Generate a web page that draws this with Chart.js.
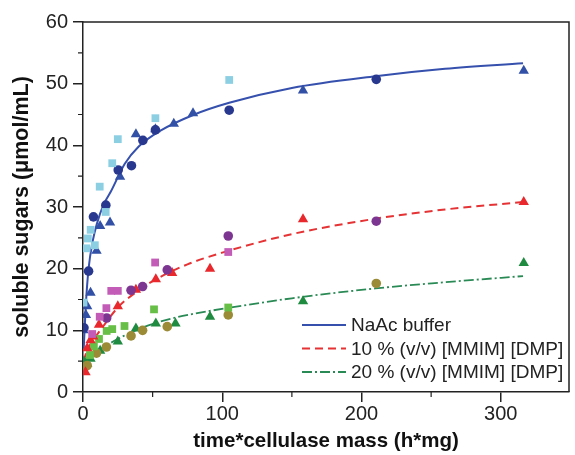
<!DOCTYPE html>
<html>
<head>
<meta charset="utf-8">
<script src="https://cdn.jsdelivr.net/npm/chart.js@4.4.1/dist/chart.umd.min.js"></script>
<style>
  html, body { margin: 0; padding: 0; background: #fff; overflow: hidden; }
  #wrap { width: 575px; height: 455px; }
</style>
</head>
<body>
<div id="wrap"><canvas id="sugarChart"></canvas></div>
<script>
// NaAc buffer
const naacCircleX = [0.7, 4, 7.5, 16.4, 25.3, 34.8, 43, 52, 105, 210.6];
const naacCircleY = [10.4, 19.6, 28.4, 30.3, 36.0, 36.7, 40.8, 42.5, 45.7, 50.7];
const naacTriX = [0.3, 2.1, 3, 5.4, 9.7, 12.3, 19.4, 26.6, 38, 52, 65.2, 79, 158, 316.5];
const naacTriY = [10.0, 12.5, 13.9, 16.1, 22.9, 26.9, 27.5, 34.9, 41.8, 42.6, 43.5, 45.2, 48.9, 52.1];
const naacSqX = [0.4, 2.5, 3.5, 5.5, 8.5, 12, 16.3, 21, 25, 52, 105];
const naacSqY = [14.5, 23.3, 24.9, 26.3, 23.8, 33.3, 29.2, 37.1, 41.0, 44.4, 50.6];
const naacFitX = [0.5, 2, 4, 7, 10, 15, 20, 30, 40, 55, 80, 105, 150, 210, 260, 316];
const naacFitY = [7, 14, 20, 24.5, 27.3, 30.5, 32.5, 37, 39.8, 42.3, 45, 46.9, 49.3, 51.2, 52.4, 53.3];

// 10 % (v/v) [MMIM] [DMP]
const il10TriX = [1.8, 3, 5.4, 7.3, 11.5, 25, 38, 52.3, 64, 91.2, 158, 316.5];
const il10TriY = [3.2, 7.1, 8.4, 9.0, 10.9, 13.9, 16.6, 18.3, 19.3, 20.0, 28.0, 30.8];
const il10CircleX = [17, 34.5, 42.8, 60.5, 104.3, 210.6];
const il10CircleY = [12.0, 16.5, 17.1, 19.8, 25.3, 27.7];
const il10SqX = [6.6, 12, 16.8, 20.3, 25, 51.8, 104.3];
const il10SqY = [9.4, 12.2, 13.6, 16.4, 16.4, 21.0, 22.7];
const il10FitX = [0.5, 3, 7, 15, 25, 40, 55, 75, 100, 150, 210, 260, 316];
const il10FitY = [5, 6.8, 8.3, 10.8, 13.7, 16.5, 18.6, 20.7, 22.6, 25.6, 28.1, 29.6, 30.8];

// 20 % (v/v) [MMIM] [DMP]
const il20TriX = [0.7, 3, 5.4, 12.3, 25, 38, 52.3, 66.4, 91.2, 158, 316.5];
const il20TriY = [5.0, 4.6, 5.4, 6.7, 8.2, 10.3, 11.1, 11.1, 12.2, 14.7, 20.9];
const il20CircleX = [0.5, 3, 9.7, 16.8, 34.5, 42.8, 60.5, 104.3, 210.6];
const il20CircleY = [3.7, 4.3, 6.3, 7.3, 9.1, 10.0, 10.6, 12.5, 17.6];
const il20SqX = [5, 7.8, 11.5, 17, 21, 29.8, 51, 104.3];
const il20SqY = [6.0, 7.4, 8.6, 9.9, 10.2, 10.7, 13.4, 13.7];
const il20FitX = [0.5, 3, 8, 15, 25, 40, 60, 80, 106, 150, 210, 260, 316];
const il20FitY = [4.5, 5.6, 6.4, 7.3, 8.6, 10.2, 11.7, 12.7, 13.7, 15.2, 16.8, 17.8, 18.8];

const legendLabels = ['NaAc buffer', '10 % (v/v) [MMIM] [DMP]', '20 % (v/v) [MMIM] [DMP]'];
const xTicks = [0, 100, 200, 300];
const yTicks = [0, 10, 20, 30, 40, 50, 60];
const xMinorTicks = [50, 150, 250];
const yMinorTicks = [5, 15, 25, 35, 45, 55];

const FONT = "'Liberation Sans', Arial, sans-serif";
const INK = '#222';

const pts = (xs, ys) => xs.map((x, i) => ({ x: x, y: ys[i] }));

function markers(xs, ys, color, style, radius) {
  return {
    data: pts(xs, ys),
    showLine: false,
    pointStyle: style,
    pointRadius: radius,
    pointHoverRadius: radius,
    pointBackgroundColor: color,
    pointBorderColor: color,
    pointBorderWidth: 0,
    order: 0
  };
}

function fitLine(xs, ys, label, color, dash, width) {
  return {
    label: label,
    isFit: true,
    data: pts(xs, ys),
    showLine: true,
    borderColor: color,
    borderWidth: width,
    borderDash: dash,
    pointRadius: 0,
    cubicInterpolationMode: 'monotone',
    order: 1
  };
}

// frame (top/right) + minor ticks
const framePlugin = {
  id: 'frame',
  afterDraw(chart) {
    const { ctx, chartArea: a, scales } = chart;
    ctx.save();
    ctx.strokeStyle = INK;
    ctx.lineWidth = 1.5;
    ctx.beginPath();
    ctx.moveTo(a.left, a.top);
    ctx.lineTo(a.right, a.top);
    ctx.lineTo(a.right, a.bottom);
    ctx.stroke();
    ctx.lineWidth = 1.2;
    ctx.beginPath();
    xMinorTicks.forEach(v => {
      const px = scales.x.getPixelForValue(v);
      ctx.moveTo(px, a.bottom);
      ctx.lineTo(px, a.bottom + 5);
    });
    yMinorTicks.forEach(v => {
      const py = scales.y.getPixelForValue(v);
      ctx.moveTo(a.left, py);
      ctx.lineTo(a.left - 5, py);
    });
    ctx.stroke();
    ctx.restore();
  }
};

// legend inside lower right of the plot
const insideLegend = {
  id: 'insideLegend',
  afterDatasetsDraw(chart) {
    const { ctx, chartArea: a } = chart;
    const fits = chart.data.datasets.filter(d => d.isFit);
    ctx.save();
    ctx.font = '19px ' + FONT;
    ctx.textBaseline = 'middle';
    ctx.fillStyle = INK;
    fits.forEach((d, i) => {
      const y = a.bottom - 67 + i * 23.5;
      ctx.strokeStyle = d.borderColor;
      ctx.lineWidth = d.borderWidth;
      ctx.setLineDash(d.borderDash || []);
      ctx.beginPath();
      ctx.moveTo(a.right - 267, y);
      ctx.lineTo(a.right - 223, y);
      ctx.stroke();
      ctx.fillText(d.label, a.right - 218, y + 1);
    });
    ctx.restore();
  }
};

new Chart(document.getElementById('sugarChart'), {
  type: 'scatter',
  data: {
    datasets: [
      fitLine(naacFitX, naacFitY, legendLabels[0], '#3550ad', [], 2),
      fitLine(il10FitX, il10FitY, legendLabels[1], '#e53335', [8, 5], 2),
      fitLine(il20FitX, il20FitY, legendLabels[2], '#2a8a55', [10, 3, 2, 3], 1.8),
      markers(naacSqX, naacSqY, '#8ccfe3', 'rect', 5.5),
      markers(naacCircleX, naacCircleY, '#29388f', 'circle', 4.8),
      markers(naacTriX, naacTriY, '#3150a6', 'triangle', 6),
      markers(il10SqX, il10SqY, '#c25cb6', 'rect', 5.5),
      markers(il10CircleX, il10CircleY, '#7d3592', 'circle', 4.8),
      markers(il10TriX, il10TriY, '#e8282c', 'triangle', 6),
      markers(il20SqX, il20SqY, '#68bf48', 'rect', 5.5),
      markers(il20CircleX, il20CircleY, '#9b8b36', 'circle', 4.8),
      markers(il20TriX, il20TriY, '#1f8b40', 'triangle', 6)
    ]
  },
  options: {
    responsive: true,
    maintainAspectRatio: false,
    animation: false,
    layout: { padding: { top: 22, right: 0, left: 0, bottom: 0 } },
    plugins: {
      legend: { display: false },
      tooltip: { enabled: false }
    },
    scales: {
      x: {
        type: 'linear',
        min: 0,
        max: 349,
        afterFit: s => { s.height = 63; s.paddingLeft = 0; s.paddingRight = 0; },
        afterBuildTicks: s => { s.ticks = xTicks.map(v => ({ value: v })); },
        grid: { drawOnChartArea: false, tickLength: 10, color: INK, lineWidth: 1.5 },
        border: { color: INK, width: 1.5 },
        ticks: { color: INK, padding: 0, font: { family: FONT, size: 20 } },
        title: {
          display: true,
          text: 'time*cellulase mass (h*mg)',
          color: '#111',
          padding: { top: 0, bottom: 1 },
          font: { family: FONT, size: 20.5, weight: 'bold' }
        }
      },
      y: {
        type: 'linear',
        min: 0,
        max: 60,
        afterFit: s => { s.width = 83; },
        afterBuildTicks: s => { s.ticks = yTicks.map(v => ({ value: v })); },
        grid: { drawOnChartArea: false, tickLength: 10, color: INK, lineWidth: 1.5 },
        border: { color: INK, width: 1.5 },
        ticks: { color: INK, padding: 5, font: { family: FONT, size: 20 } },
        title: {
          display: true,
          text: 'soluble sugars (\u03bcmol/mL)',
          color: '#111',
          padding: { top: 9, bottom: 0 },
          font: { family: FONT, size: 21.5, weight: 'bold' }
        }
      }
    }
  },
  plugins: [framePlugin, insideLegend]
});
</script>
</body>
</html>
